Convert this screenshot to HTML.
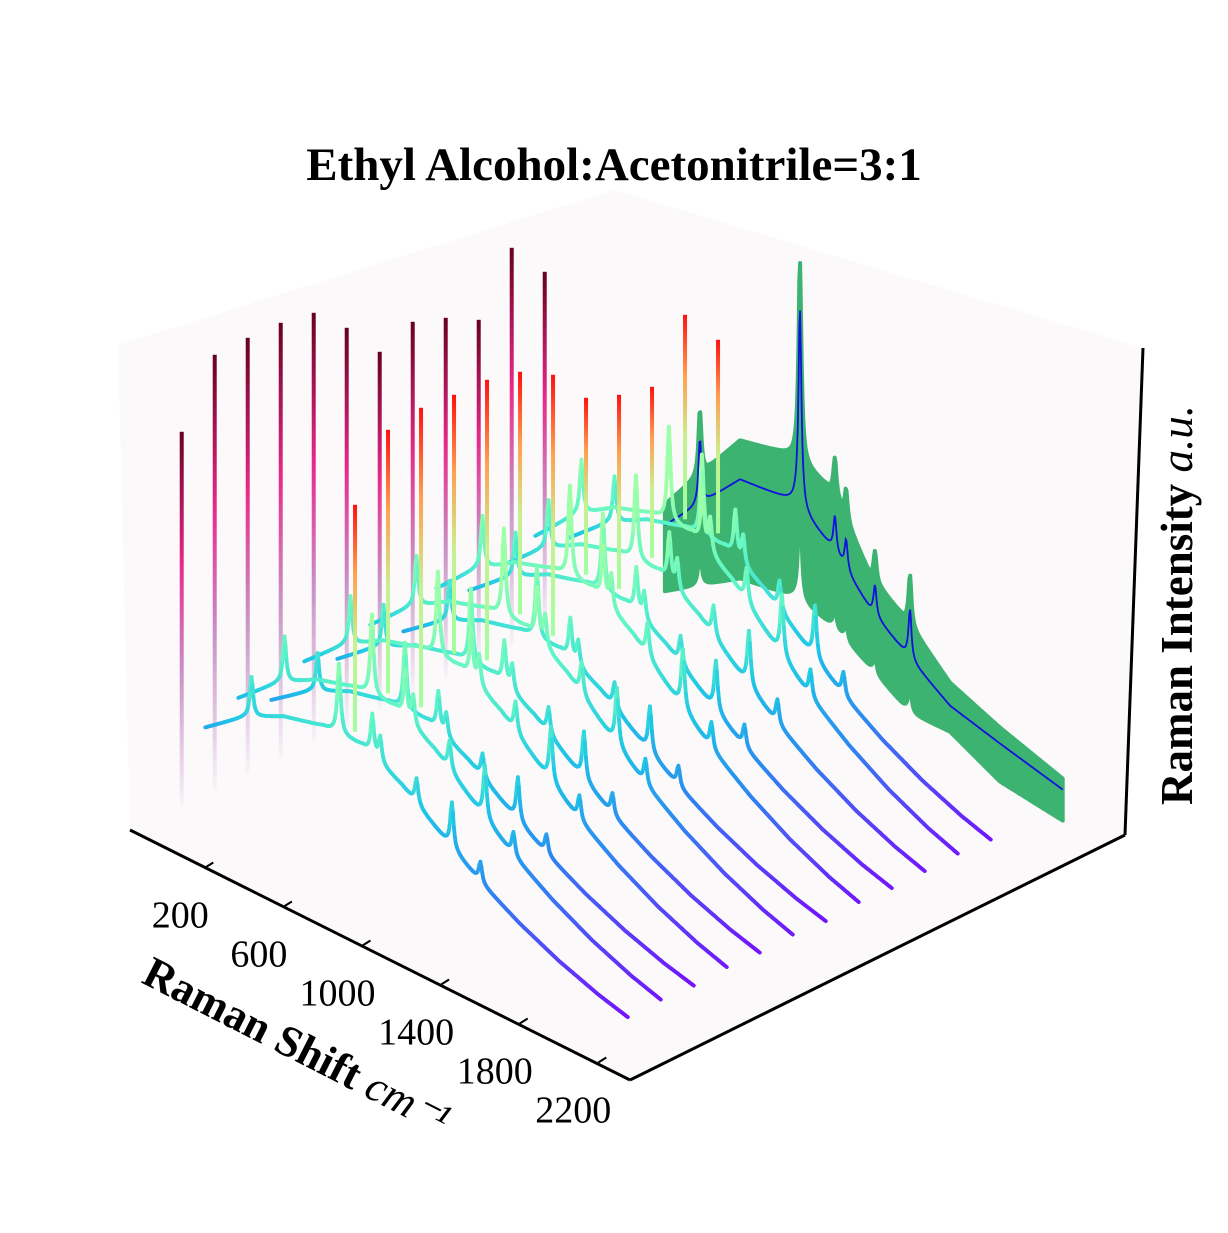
<!DOCTYPE html>
<html><head><meta charset="utf-8"><style>
body{margin:0;background:#fff}
svg text{font-family:"Liberation Serif",serif}
</style></head><body>
<svg id="chart" width="1228" height="1228" viewBox="0 0 1228 1228" xmlns="http://www.w3.org/2000/svg">
<defs>
<linearGradient id="gPu" x1="0" y1="1" x2="0" y2="0"><stop offset="0" stop-color="#f7f4f9"/><stop offset="0.35" stop-color="#c994c7"/><stop offset="0.65" stop-color="#e7298a"/><stop offset="1" stop-color="#67001f"/></linearGradient>
<linearGradient id="gRd" x1="0" y1="1" x2="0" y2="0"><stop offset="0" stop-color="#a0ffa0"/><stop offset="0.4" stop-color="#c8f090"/><stop offset="0.7" stop-color="#ffa050"/><stop offset="1" stop-color="#ff1010"/></linearGradient>
</defs>
<polygon points="130,830 118,345 614,190 1143,348 1125,835 630,1080" fill="#fcf9fa"/>
<g id="marks"></g>
<line x1="130" y1="830" x2="630" y2="1080" stroke="#000" stroke-width="3"/>
<line x1="630" y1="1080" x2="1125" y2="835" stroke="#000" stroke-width="3"/>
<line x1="1125" y1="835" x2="1143" y2="348" stroke="#000" stroke-width="3"/>
<g id="ticks"></g>
<text x="614" y="180" font-size="47" font-weight="bold" text-anchor="middle">Ethyl Alcohol:Acetonitrile=3:1</text>
<text transform="translate(140,982) rotate(27)" font-size="44" font-weight="bold">Raman Shift <tspan font-style="italic" font-weight="normal">cm⁻¹</tspan></text>
<text transform="translate(1192,805) rotate(-90)" font-size="45" font-weight="bold">Raman Intensity <tspan font-style="italic" font-weight="normal">a.u.</tspan></text>
</svg>
<script>
// ---- data ----
const gridX = [200,400,600,800,1000,1200,1400,1600,1800,2000,2200,2350];
const baseShape = [90,120,140,150,150,130,100,72,50,32,18,10];
const seriesScale = [1.0,1.15,0.95,1.2,1.05,1.25,1.0,1.3,1.1,1.2,1.35,1.15];
const peakPos = [435,880,1050,1090,1275,1455,1600];
const peakHeight = [40,70,40,25,25,45,20];
const leftSpikeHeight = [374,435,436,435,429,398,358,372,360,342,398,358];
const redSpikeTop = [387,446,452,449,448,440,421,382,369,361,417,376];
const greenX = [188,570,850,1053,1232,1435,1639,1893,2214];
const greenZ = [67,150,155,125,85,55,28,15,0];
const greenUpper = [21,39,46,58,34,34,23,16,11];
const greenLower = [66,99,95,76,58,54,26,38,31];
const greenPeakPos = [366,875,1053,1110,1257,1435];
const greenPeakHeight = [65,200,35,30,30,50];
const xTicks = [200,600,1000,1400,1800,2200];
// ---- projection ----
const sx = (x,y)=>166+0.1965*x+33*y;
const sy = (x,y,z)=>848+0.0975*x-16*y-50-z;
const g = document.getElementById('marks');
const NS='http://www.w3.org/2000/svg';
function interp(xa,za,x){if(x<=xa[0])return za[0];for(let i=1;i<xa.length;i++){if(x<=xa[i]){const t=(x-xa[i-1])/(xa[i]-xa[i-1]);return za[i-1]+t*(za[i]-za[i-1]);}}return za[za.length-1];}
function lor(x,p,h,w){return h/(1+((x-p)/w)**2);}
const stops=[[0,[128,0,255]],[0.3,[43,140,240]],[0.5,[30,200,230]],[0.75,[94,245,200]],[1,[157,255,168]]];
function cmap(v){v=Math.max(0,Math.min(1,v));for(let i=1;i<stops.length;i++){if(v<=stops[i][0]){const t=(v-stops[i-1][0])/(stops[i][0]-stops[i-1][0]);const a=stops[i-1][1],b=stops[i][1];return 'rgb('+a.map((c,k)=>Math.round(c+t*(b[k]-c))).join(',')+')';}}return 'rgb(157,255,168)';}
{
  const up=[],lo=[],mid=[];
  for(let x=188;x<=2214;x+=4){
    let pk=0;greenPeakPos.forEach((p,k)=>pk+=lor(x,p,greenPeakHeight[k],9));
    const z=interp(greenX,greenZ,x)+pk;
    const X=sx(x,14).toFixed(1);
    mid.push(X+','+sy(x,14,z).toFixed(1));
    up.push(X+','+sy(x,14,z+interp(greenX,greenUpper,x)).toFixed(1));
    lo.unshift(X+','+sy(x,14,z-interp(greenX,greenLower,x)-pk*0.4).toFixed(1));
  }
  const band=document.createElementNS(NS,'polygon');
  
  
  band.setAttribute('points',up.concat(lo).join(' '));band.setAttribute('fill','#3cb371');band.setAttribute('stroke','#3cb371');band.setAttribute('stroke-width','4');band.setAttribute('stroke-linejoin','round');
  g.appendChild(band);
  const ln=document.createElementNS(NS,'polyline');
  
  
  ln.setAttribute('points',mid.join(' '));ln.setAttribute('fill','none');ln.setAttribute('stroke','#1010e0');ln.setAttribute('stroke-width','1.8');
  g.appendChild(ln);
}
for(let i=seriesScale.length-1;i>=0;i--){
  const grp=document.createElementNS(NS,'g');
  
  
  const ls=document.createElementNS(NS,'rect');
  
  
  const lx=sx(80,i),lb=sy(80,i,0);
  ls.setAttribute('x',lx-2);ls.setAttribute('y',lb-leftSpikeHeight[i]);ls.setAttribute('width',4);ls.setAttribute('height',leftSpikeHeight[i]);ls.setAttribute('fill','url(#gPu)');
  grp.appendChild(ls);
  let px=null,py=null;
  for(let x=200;x<=2350;x+=5){
    let z=interp(gridX,baseShape,x)*seriesScale[i];
    peakPos.forEach((p,k)=>z+=lor(x,p,peakHeight[k]*seriesScale[i],10));
    const X=sx(x,i),Y=sy(x,i,z);
    if(px!==null){
      const s=document.createElementNS(NS,'line');
      
      
      s.setAttribute('x1',px.toFixed(1));s.setAttribute('y1',py.toFixed(1));s.setAttribute('x2',X.toFixed(1));s.setAttribute('y2',Y.toFixed(1));
      s.setAttribute('stroke',cmap(z/230));s.setAttribute('stroke-width','3.8');s.setAttribute('stroke-linecap','round');
      grp.appendChild(s);
    }
    px=X;py=Y;
  }
  const rs=document.createElementNS(NS,'rect');
  
  
  const rx=sx(962,i);
  const rBot=sy(962,i,interp(gridX,baseShape,962)*seriesScale[i]+10), rTop=sy(962,i,redSpikeTop[i]);
  rs.setAttribute('x',rx-2);rs.setAttribute('y',rTop);rs.setAttribute('width',4);rs.setAttribute('height',Math.max(0,rBot-rTop));rs.setAttribute('fill','url(#gRd)');
  grp.appendChild(rs);
  g.appendChild(grp);
}
const tg=document.getElementById('ticks');
xTicks.forEach(t=>{
  const X=sx(t,0),Y=848+0.0975*t;
  const l=document.createElementNS(NS,'line');
  
  
  l.setAttribute('x1',X);l.setAttribute('y1',Y);l.setAttribute('x2',X+8);l.setAttribute('y2',Y-5);l.setAttribute('stroke','#000');l.setAttribute('stroke-width','2');
  tg.appendChild(l);
  const tx=document.createElementNS(NS,'text');
  
  
  tx.setAttribute('x',X-25);tx.setAttribute('y',Y+60);tx.setAttribute('font-size','38');tx.setAttribute('text-anchor','middle');
  tx.textContent=t;
  tg.appendChild(tx);
});
</script>
</body></html>
